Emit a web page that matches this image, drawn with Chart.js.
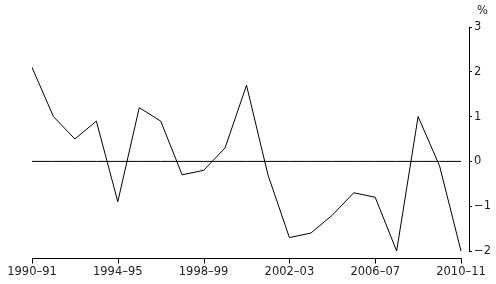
<!DOCTYPE html>
<html><head><meta charset="utf-8">
<script src="https://cdn.jsdelivr.net/npm/chart.js@4"></script>
<style>html,body{margin:0;padding:0;background:#fff}#w{width:496px;height:284px}</style>
</head><body><div id="w"><canvas id="c"></canvas></div>
<script>
const categories = ["1990–91","1991–92","1992–93","1993–94","1994–95","1995–96","1996–97","1997–98","1998–99","1999–00","2000–01","2001–02","2002–03","2003–04","2004–05","2005–06","2006–07","2007–08","2008–09","2009–10","2010–11"];
const values = [2.1,1.0,0.5,0.9,-0.9,1.2,0.9,-0.3,-0.2,0.3,1.7,-0.3,-1.7,-1.6,-1.2,-0.7,-0.8,-2.0,1.0,-0.1,-2.0];
const zeroLine = categories.map(() => 0);
const xTickIdx = [0,4,8,12,16,20];
const yTicks = [-2,-1,0,1,2,3];

const FONT = {family: "DejaVu Sans", size: 11.5};

const axisPlugin = {
  id: 'xbase',
  afterDraw(chart) {
    const ctx = chart.ctx, x = chart.scales.x, y = chart.scales.y;
    const by = Math.round(chart.chartArea.bottom) + 7.5;
    ctx.save();
    ctx.strokeStyle = '#000'; ctx.lineWidth = 1;
    ctx.beginPath();
    const x0 = Math.round(x.getPixelForValue(0)) + 0.5;
    const x1 = Math.round(x.getPixelForValue(categories.length - 1)) + 0.5;
    ctx.moveTo(x0, by); ctx.lineTo(x1, by);
    xTickIdx.forEach(i => {
      const px = Math.round(x.getPixelForValue(i)) + 0.5;
      ctx.moveTo(px, by); ctx.lineTo(px, by + 5);
    });
    ctx.stroke();
    ctx.fillStyle = '#222';
    ctx.font = FONT.size + 'px ' + FONT.family;
    ctx.textAlign = 'left'; ctx.textBaseline = 'middle';
    ctx.fillText('%', y.left + 8, y.top - 16);
    ctx.restore();
  }
};

new Chart(document.getElementById('c'), {
  type: 'line',
  data: {
    datasets: [
      {data: zeroLine.map((v,i)=>({x:i,y:v})), borderColor:'#000', borderWidth:1, pointRadius:0, tension:0},
      {data: values.map((v,i)=>({x:i,y:v})), borderColor:'#000', borderWidth:1, pointRadius:0, tension:0}
    ]
  },
  plugins: [axisPlugin],
  options: {
    responsive: true, maintainAspectRatio: false, animation: false,
    layout: {padding: {left: 32, top: 27, right: 0, bottom: 0}},
    plugins: {legend: {display:false}, tooltip: {enabled:false}},
    scales: {
      x: {
        type: 'linear', min: 0, max: (categories.length - 1) + 8/21.45,
        afterBuildTicks(s) { s.ticks = xTickIdx.map(v => ({value: v})); },
        afterFit(s) { s.height = 33; s.paddingLeft = 0; s.paddingRight = 0; },
        grid: {display:false, drawTicks:false},
        border: {display:false},
        ticks: {color:'#222', font: FONT, padding: 14, maxRotation:0, autoSkip:false,
          callback: v => categories[v] ?? ''}
      },
      y: {
        position: 'right', min: -2, max: 3,
        afterBuildTicks(s) { s.ticks = yTicks.map(v => ({value: v})); },
        afterFit(s) { s.width = 27; s.paddingTop = 0; s.paddingBottom = 0; },
        grid: {drawOnChartArea:false, drawTicks:true, tickLength:3, color:'#000'},
        border: {display:true, color:'#000', width:1},
        ticks: {color:'#222', font: FONT, padding: 2, crossAlign:'near',
          callback: v => String(v).replace('-', '\u2212')}
      }
    }
  }
});
</script></body></html>
